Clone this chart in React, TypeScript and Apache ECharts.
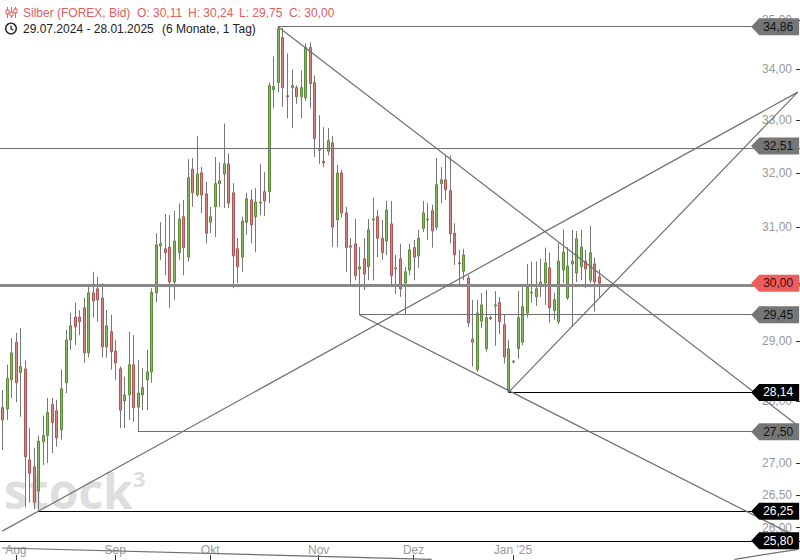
import React, { useEffect, useRef } from "react";
import * as echarts from "echarts";

// ---------- data ----------
const instrument = "Silber (FOREX, Bid)";
const period = "29.07.2024 - 28.01.2025";
const periodNote = "(6 Monate, 1 Tag)";

const opens = [
  27.89, 27.87, 28.35, 28.98, 28.47, 28.53, 27.05, 26.94, 26.56, 27.34,
  27.44, 27.94, 27.84, 27.53, 28.30, 29.02, 29.41, 29.41, 29.57, 28.80,
  29.83, 29.90, 29.74, 28.90, 29.16, 28.83, 28.53, 28.00, 28.10, 28.60,
  27.90, 28.10, 28.35, 28.48, 29.83, 30.66, 30.61, 30.64, 30.02, 30.54,
  31.19, 30.46, 32.07, 31.59, 32.00, 31.61, 31.09, 31.37, 31.80, 31.98,
  32.17, 31.63, 30.61, 30.46, 31.09, 31.50, 31.19, 31.44, 31.65, 31.65,
  33.60, 33.74, 34.64, 33.48, 33.64, 33.64, 33.46, 33.44, 34.44, 33.74,
  32.43, 32.22, 32.41, 32.57, 31.13, 32.00, 31.26, 30.66, 30.70, 30.25,
  30.43, 30.29, 31.13, 31.19, 30.80, 30.75, 31.06, 30.27, 30.43, 30.00,
  30.23, 30.63, 30.48, 30.98, 31.13, 31.30, 31.00, 31.80, 31.87, 31.67,
  30.89, 30.36, 30.21, 30.09, 29.03, 28.52, 29.34, 28.87, 29.40, 29.60,
  29.66, 29.28, 28.16, 28.65, 28.87, 28.98, 29.48, 29.83, 29.76, 29.97,
  30.00, 30.27, 29.52, 29.33, 30.23, 29.74, 30.34, 30.18, 30.29, 30.39,
  30.05, 30.34, 30.11,
];
const highs = [
  28.18, 28.60, 29.05, 29.14, 29.22, 28.67, 27.56, 27.24, 27.44, 27.76,
  28.05, 28.05, 28.02, 28.52, 29.19, 29.48, 29.66, 29.53, 29.74, 29.97,
  30.20, 30.11, 30.00, 29.53, 29.45, 29.02, 28.57, 28.40, 29.16, 29.10,
  28.68, 28.55, 28.85, 29.91, 30.89, 31.09, 31.24, 31.22, 31.30, 31.43,
  31.50, 32.26, 32.28, 32.70, 32.11, 31.83, 31.37, 32.30, 32.20, 32.94,
  32.37, 31.81, 30.80, 31.19, 31.63, 31.69, 31.72, 32.17, 32.02, 33.74,
  34.26, 34.86, 34.84, 34.32, 34.00, 33.68, 33.98, 34.52, 34.54, 33.88,
  33.10, 32.87, 32.85, 32.70, 32.15, 32.06, 31.37, 30.80, 31.15, 30.64,
  30.80, 31.15, 31.54, 31.31, 31.13, 31.48, 31.48, 30.50, 30.70, 30.29,
  30.70, 30.77, 30.95, 31.48, 31.44, 31.41, 32.28, 32.11, 32.33, 32.33,
  31.07, 30.59, 30.61, 30.14, 29.71, 29.71, 29.83, 29.88, 29.43, 29.86,
  29.76, 29.45, 29.02, 28.68, 29.86, 29.93, 30.34, 30.38, 30.38, 30.43,
  30.63, 30.54, 29.83, 30.71, 30.96, 30.64, 30.95, 30.93, 30.95, 30.59,
  31.02, 30.45, 30.24,
];
const lows = [
  27.21, 27.69, 28.05, 27.98, 27.74, 26.31, 26.38, 26.28, 26.25, 26.97,
  27.00, 27.16, 27.26, 27.37, 28.13, 28.85, 28.93, 29.10, 28.63, 28.72,
  29.40, 29.33, 28.72, 28.72, 28.52, 28.35, 27.56, 27.56, 27.69, 27.66,
  27.50, 27.85, 27.85, 28.30, 29.66, 30.41, 30.14, 29.57, 29.71, 30.41,
  30.14, 30.38, 31.37, 31.56, 31.26, 30.71, 30.89, 30.82, 31.37, 31.35,
  31.35, 29.91, 30.00, 30.20, 30.86, 30.71, 30.55, 31.22, 31.20, 31.44,
  33.24, 33.54, 33.26, 33.04, 32.85, 33.32, 33.04, 33.38, 33.24, 32.30,
  32.17, 32.11, 32.33, 30.64, 30.64, 31.17, 30.20, 29.97, 30.05, 29.45,
  29.88, 30.05, 30.05, 30.46, 30.41, 30.50, 29.93, 29.81, 29.76, 29.45,
  30.14, 30.05, 30.27, 30.91, 30.77, 30.63, 30.95, 31.44, 31.50, 30.71,
  30.32, 29.97, 30.05, 29.24, 28.57, 28.48, 29.22, 28.82, 29.36, 28.92,
  29.12, 28.62, 28.14, 28.62, 28.70, 28.93, 29.40, 29.66, 29.60, 29.76,
  29.62, 29.31, 29.36, 29.29, 30.00, 29.71, 29.24, 30.02, 30.05, 29.91,
  30.00, 29.50, 29.75,
];
const closes = [
  27.69, 28.37, 28.80, 28.30, 28.57, 27.10, 26.84, 26.39, 27.35, 27.44,
  27.81, 27.65, 27.40, 28.20, 29.02, 29.26, 29.24, 29.33, 28.80, 29.83,
  29.69, 29.71, 28.90, 29.26, 28.82, 28.63, 27.85, 28.10, 28.60, 27.89,
  28.13, 28.22, 28.48, 29.84, 30.68, 30.70, 30.54, 30.02, 30.75, 31.15,
  30.63, 31.91, 31.63, 31.98, 31.59, 30.89, 31.19, 31.80, 31.85, 32.17,
  31.44, 30.48, 30.29, 31.11, 31.52, 31.04, 31.46, 31.46, 31.48, 33.68,
  33.66, 34.82, 33.64, 33.46, 33.68, 33.46, 33.64, 34.44, 33.72, 32.65,
  32.46, 32.19, 32.61, 31.00, 32.00, 31.26, 30.63, 30.64, 30.13, 30.29,
  30.16, 30.95, 31.15, 30.80, 30.54, 31.31, 30.13, 30.25, 29.90, 30.20,
  30.59, 30.46, 30.80, 31.26, 31.15, 30.93, 31.78, 31.87, 31.69, 30.88,
  30.50, 30.34, 30.50, 29.31, 28.98, 29.48, 29.62, 29.40, 29.38, 29.62,
  29.33, 28.73, 28.87, 28.66, 29.40, 29.59, 29.93, 29.84, 29.90, 30.02,
  30.36, 29.57, 29.71, 30.39, 30.55, 30.30, 30.39, 30.79, 30.64, 30.25,
  30.54, 30.02, 30.00,
];

// candle slots across the whole width (trading days + empty future area)
const SLOT_COUNT = 177;
const monthTicks: [number, string][] = [
  [3, "Aug"], [25, "Sep"], [46, "Okt"], [70, "Nov"], [91, "Dez"], [113, "Jan '25"],
];
const priceTicks = [26, 26.5, 27, 28, 29, 30, 31, 32, 33, 34, 35];
const PRICE_MIN = 25.51;
const PRICE_MAX = 35.41;

// horizontal drawing levels: price, start slot (null = full width), kind
const levelLines = [
  { price: 34.86, from: 61, kind: "grey" },
  { price: 32.51, from: null, kind: "grey" },
  { price: 30.0, from: null, kind: "main" },
  { price: 29.45, from: 79, kind: "grey" },
  { price: 28.14, from: 112, kind: "black" },
  { price: 27.5, from: 30, kind: "grey" },
  { price: 26.25, from: 8, kind: "black" },
  { price: 25.8, from: null, kind: "black" },
];

// trend lines: two anchor points [slot, price], drawn from slot `from` to slot `to`
const trendLines = [
  { a: [61, 34.86], b: [176, 27.6], from: 61, to: 176 },
  { a: [112, 28.14], b: [176, 33.55], from: 112, to: 176 },
  { a: [8, 26.25], b: [176, 33.55], from: 0, to: 176 },
  { a: [79, 29.45], b: [176, 25.85], from: 79, to: 176 },
  { a: [0, 25.69], b: [95, 25.52], from: 0, to: 95 },
  { a: [162, 25.52], b: [176, 25.67], from: 162, to: 176 },
];

// ---------- helpers / styles ----------
const FONT = '"Liberation Sans", Arial, sans-serif';
const fmt = (v: number) => v.toFixed(2).replace(".", ",");
const LAST_SLOT = SLOT_COUNT - 1;
const TAG_SLOT = 171;
const TAG_PATH = "path://M0,8.5L8,0L48,0L48,17L8,17Z";

const levelStyle: Record<string, any> = {
  grey: { color: "#6e6e6e", width: 1, type: "solid" },
  black: { color: "#000000", width: 1, type: "solid" },
  main: { color: "#888888", width: 3, type: "solid" },
};
const tagFill: Record<string, string> = { grey: "#767676", black: "#000000", main: "#ef5d5d" };
const tagText: Record<string, string> = { grey: "#111111", black: "#ffffff", main: "#3a0b0b" };

const UP_FILL = "#88b864";
const UP_STROKE = "#5b8b3b";
const DOWN_FILL = "#d68585";
const DOWN_STROKE = "#ad5656";
const WICK = "#777777";

function lnAt(t: { a: number[]; b: number[] }, x: number) {
  const la = Math.log(t.a[1]);
  const lb = Math.log(t.b[1]);
  return la + ((lb - la) * (x - t.a[0])) / (t.b[0] - t.a[0]);
}

export default function App() {
  const ref = useRef<HTMLDivElement>(null);

  useEffect(() => {
    if (!ref.current) return;
    const chart = echarts.init(ref.current, undefined, { renderer: "svg" });

    const categories = Array.from({ length: SLOT_COUNT }, (_, i) => String(i));
    const tickMap = new Map(monthTicks.map(([i, l]) => [i, l]));
    const candleData = opens.map((o, i) => [
      i,
      Math.log(o),
      Math.log(closes[i]),
      Math.log(lows[i]),
      Math.log(highs[i]),
    ]);

    const markLines: any[] = [];
    levelLines.forEach((l) => {
      const v = Math.log(l.price);
      const ls = levelStyle[l.kind];
      if (l.from === null) {
        markLines.push({ yAxis: v, lineStyle: ls });
      } else {
        markLines.push([{ coord: [l.from, v], lineStyle: ls }, { coord: [LAST_SLOT, v] }]);
      }
    });
    trendLines.forEach((t) => {
      markLines.push([
        { coord: [t.from, lnAt(t, t.from)], lineStyle: { color: "#6f6f6f", width: 1.2, type: "solid" } },
        { coord: [t.to, lnAt(t, t.to)] },
      ]);
    });

    const markPoints = levelLines.map((l) => ({
      name: fmt(l.price),
      coord: [TAG_SLOT, Math.log(l.price)],
      symbol: TAG_PATH,
      symbolSize: [48, 17],
      itemStyle: { color: tagFill[l.kind] },
      label: {
        show: true,
        position: "inside",
        formatter: "{b}",
        color: tagText[l.kind],
        fontSize: 12,
        fontFamily: FONT,
        offset: [3, 0],
      },
    }));

    const n = opens.length - 1;
    const headerParts = [
      { text: instrument, x: 23 },
      { text: "O: " + fmt(opens[n]), x: 137 },
      { text: "H: " + fmt(highs[n]), x: 188 },
      { text: "L: " + fmt(lows[n]), x: 239 },
      { text: "C: " + fmt(closes[n]), x: 289 },
    ];
    const RED = "#e25d5d";

    const option: any = {
      animation: false,
      backgroundColor: "#ffffff",
      textStyle: { fontFamily: FONT },
      grid: { left: 0, right: 0, top: 0, bottom: 0, containLabel: false },
      xAxis: {
        type: "category",
        data: categories,
        boundaryGap: true,
        axisLine: { show: false },
        splitLine: { show: false },
        axisTick: {
          show: true,
          inside: true,
          length: 5,
          alignWithLabel: true,
          interval: (idx: number) => tickMap.has(idx),
          lineStyle: { color: "#333" },
        },
        axisLabel: {
          inside: true,
          margin: 4,
          color: "#999",
          fontSize: 12,
          fontFamily: FONT,
          interval: (idx: number) => tickMap.has(idx),
          formatter: (_v: string, idx: number) => tickMap.get(idx) || "",
        },
      },
      yAxis: {
        type: "value",
        position: "right",
        min: Math.log(PRICE_MIN),
        max: Math.log(PRICE_MAX),
        axisLine: { show: false },
        splitLine: { show: false },
        axisTick: {
          show: true,
          inside: true,
          length: 4,
          lineStyle: { color: "#333" },
          customValues: priceTicks.map((p) => Math.log(p)),
        },
        axisLabel: {
          inside: true,
          margin: 8,
          color: "#999",
          fontSize: 12,
          fontFamily: FONT,
          customValues: priceTicks.map((p) => Math.log(p)),
          formatter: (v: number) => fmt(Math.exp(v)),
        },
      },
      graphic: [
        // watermark
        {
          type: "text",
          z: 0,
          x: 4,
          y: 490,
          silent: true,
          style: { text: "stock", fill: "#dedede", font: 'bold 48px "Open Sans", sans-serif', verticalAlign: "middle" },
        },
        {
          type: "text",
          z: 0,
          x: 133,
          y: 478,
          silent: true,
          style: { text: "3", fill: "#dedede", font: 'bold 22px "Open Sans", sans-serif', verticalAlign: "middle" },
        },
        // candle icon
        { type: "line", shape: { x1: 7.5, y1: 7, x2: 7.5, y2: 18 }, style: { stroke: RED, lineWidth: 1 } },
        { type: "rect", shape: { x: 6, y: 10, width: 3, height: 4 }, style: { fill: "#fff", stroke: RED, lineWidth: 1 } },
        { type: "line", shape: { x1: 11.5, y1: 7, x2: 11.5, y2: 18 }, style: { stroke: RED, lineWidth: 1 } },
        { type: "rect", shape: { x: 10, y: 12, width: 3, height: 4 }, style: { fill: "#fff", stroke: RED, lineWidth: 1 } },
        { type: "line", shape: { x1: 15.5, y1: 7, x2: 15.5, y2: 18 }, style: { stroke: RED, lineWidth: 1 } },
        { type: "rect", shape: { x: 14, y: 9, width: 3, height: 4 }, style: { fill: "#fff", stroke: RED, lineWidth: 1 } },
        // clock icon
        { type: "circle", shape: { cx: 11, cy: 28.5, r: 5.3 }, style: { fill: "none", stroke: "#222", lineWidth: 1.4 } },
        { type: "polyline", shape: { points: [[11, 25.5], [11, 28.8], [13.5, 30.3]] }, style: { fill: "none", stroke: "#222", lineWidth: 1.3 } },
        ...headerParts.map((p) => ({
          type: "text",
          x: p.x,
          y: 13,
          style: { text: p.text, fill: RED, font: "12px " + FONT, verticalAlign: "middle" },
        })),
        { type: "text", x: 23, y: 28.5, style: { text: period, fill: "#222", font: "12px " + FONT, verticalAlign: "middle" } },
        { type: "text", x: 162, y: 28.5, style: { text: periodNote, fill: "#222", font: "12px " + FONT, verticalAlign: "middle" } },
      ],
      series: [
        {
          type: "custom",
          z: 2,
          silent: true,
          dimensions: ["slot", "open", "close", "low", "high"],
          encode: { x: 0, y: [1, 2, 3, 4] },
          data: candleData,
          renderItem: (_params: any, api: any) => {
            const i = api.value(0);
            const o = api.value(1);
            const c = api.value(2);
            const l = api.value(3);
            const h = api.value(4);
            const pO = api.coord([i, o]);
            const pC = api.coord([i, c]);
            const pL = api.coord([i, l]);
            const pH = api.coord([i, h]);
            const cx = Math.round(pO[0]) + 0.5;
            const up = c >= o;
            const top = Math.min(pO[1], pC[1]);
            const bot = Math.max(pO[1], pC[1]);
            return {
              type: "group",
              children: [
                {
                  type: "line",
                  shape: { x1: cx, y1: pH[1], x2: cx, y2: pL[1] },
                  style: { stroke: WICK, lineWidth: 1 },
                },
                {
                  type: "rect",
                  shape: { x: cx - 1, y: top, width: 2, height: Math.max(bot - top, 0.8) },
                  style: {
                    fill: up ? UP_FILL : DOWN_FILL,
                    stroke: up ? UP_STROKE : DOWN_STROKE,
                    lineWidth: 1,
                  },
                },
              ],
            };
          },
        },
        {
          type: "line",
          z: 3,
          silent: true,
          data: closes.map((c) => Math.log(c)),
          showSymbol: false,
          symbol: "none",
          lineStyle: { opacity: 0 },
          markLine: {
            silent: true,
            symbol: ["none", "none"],
            label: { show: false },
            emphasis: { disabled: true },
            data: markLines,
          },
          markPoint: {
            silent: true,
            data: markPoints,
          },
        },
      ],
    };

    chart.setOption(option);
    return () => chart.dispose();
  }, []);

  return (
    <div
      ref={ref}
      style={{ position: "absolute", left: 0, top: 0, width: 800, height: 560 }}
    />
  );
}
